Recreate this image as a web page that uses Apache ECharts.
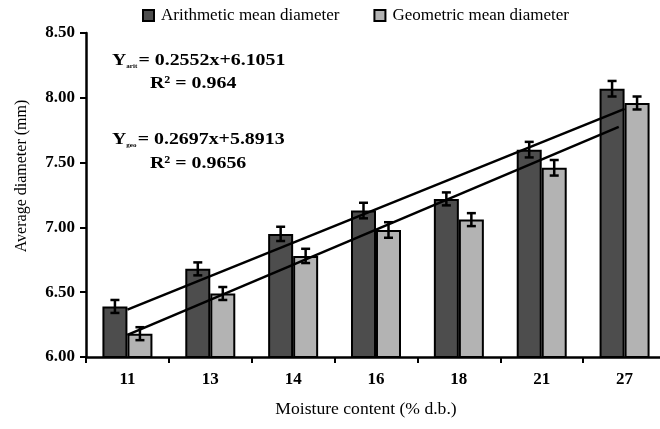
<!DOCTYPE html>
<html>
<head>
<meta charset="utf-8">
<script src="https://cdn.jsdelivr.net/npm/echarts@6/dist/echarts.min.js"></script>
<style>
html,body{margin:0;padding:0;background:#fff;}
#chart{width:660px;height:429px;}
</style>
</head>
<body>
<div id="chart"></div>
<script>
const categories = ['11', '13', '14', '16', '18', '21', '27'];
const arithMean = [6.39, 6.68, 6.95, 7.13, 7.22, 7.60, 8.07];
const geoMean = [6.18, 6.49, 6.78, 6.98, 7.06, 7.46, 7.96];
const arithErr = [0.05, 0.05, 0.055, 0.06, 0.05, 0.06, 0.06];
const geoErr = [0.05, 0.05, 0.055, 0.06, 0.05, 0.06, 0.05];
const arithTrend = [[1, 6.365], [7, 7.915]];
const geoTrend = [[1, 6.17], [6.93, 7.775]];
const seriesNames = ['Arithmetic mean diameter', 'Geometric mean diameter'];
const xTitle = 'Moisture content (% d.b.)';
const yTitle = 'Average diameter (mm)';

const FONT = '"Liberation Serif", "Times New Roman", serif';
const DARK = '#4d4d4d';
const LIGHT = '#b3b3b3';
const BAR_W = 25;

function errRenderer(offset) {
  return function (params, api) {
    const i = api.value(0);
    const lo = api.coord([i, api.value(1)]);
    const hi = api.coord([i, api.value(2)]);
    const x = lo[0] + offset;
    const cap = 4.5;
    const st = { stroke: '#000', lineWidth: 2.5 };
    return {
      type: 'group',
      children: [
        { type: 'line', shape: { x1: x, y1: lo[1], x2: x, y2: hi[1] }, style: st },
        { type: 'line', shape: { x1: x - cap, y1: lo[1], x2: x + cap, y2: lo[1] }, style: st },
        { type: 'line', shape: { x1: x - cap, y1: hi[1], x2: x + cap, y2: hi[1] }, style: st }
      ]
    };
  };
}

const chart = echarts.init(document.getElementById('chart'), null, { renderer: 'canvas' });
const eqRich = {
  a: { fontFamily: FONT, fontSize: 17, fontWeight: 'bold', color: '#000' },
  s: { fontFamily: FONT, fontSize: 6, fontWeight: 'bold', color: '#000', verticalAlign: 'bottom', padding: [0, 1, 0, 0] }
};
const EQ_SX = 1.17;
chart.setOption({
  animation: false,
  backgroundColor: '#fff',
  textStyle: { fontFamily: FONT },
  legend: {
    top: 7, left: 142, padding: 0,
    itemWidth: 11, itemHeight: 11, itemGap: 34,
    icon: 'rect',
    textStyle: { fontFamily: FONT, fontSize: 17, color: '#000', padding: [0, 0, 0, 2] },
    data: seriesNames
  },
  grid: { left: 86, top: 33, width: 580, height: 324, containLabel: false, outerBoundsMode: 'none' },
  xAxis: [
    {
      type: 'category', data: categories, boundaryGap: true,
      axisLine: { lineStyle: { color: '#000', width: 2.5 } },
      axisTick: { show: true, length: 6, interval: 0, lineStyle: { color: '#000', width: 2 } },
      axisLabel: { margin: 14, fontFamily: FONT, fontSize: 17, fontWeight: 'bold', color: '#000', interval: 0 },
      splitLine: { show: false }
    },
    { type: 'value', min: 0.5, max: 7.5, show: false, position: 'bottom' }
  ],
  yAxis: {
    type: 'value', min: 6, max: 8.5, interval: 0.5,
    axisLine: { show: true, lineStyle: { color: '#000', width: 2.5 } },
    axisTick: { show: true, length: 6, lineStyle: { color: '#000', width: 2 } },
    axisLabel: { margin: 11, fontFamily: FONT, fontSize: 17, fontWeight: 'bold', color: '#000', formatter: v => v.toFixed(2) },
    splitLine: { show: false }
  },
  graphic: [
    { type: 'text', x: 22, y: 176, rotation: Math.PI / 2,
      style: { text: yTitle, fontFamily: FONT, fontSize: 16, fill: '#000', align: 'center', verticalAlign: 'middle' } },
    { type: 'text', x: 366, y: 410, scaleX: 1.1,
      style: { text: xTitle, fontFamily: FONT, fontSize: 16, fill: '#000', align: 'center', verticalAlign: 'middle' } },
    { type: 'text', x: 112, y: 61, z: 100, scaleX: EQ_SX,
      style: { text: '{a|Y}{s|arit}{a|= 0.2552x+6.1051}', rich: eqRich, align: 'left', verticalAlign: 'middle' } },
    { type: 'text', x: 150, y: 84, z: 100, scaleX: EQ_SX,
      style: { text: '{a|R² = 0.964}', rich: eqRich, align: 'left', verticalAlign: 'middle' } },
    { type: 'text', x: 112, y: 140, z: 100, scaleX: EQ_SX,
      style: { text: '{a|Y}{s|geo}{a|= 0.2697x+5.8913}', rich: eqRich, align: 'left', verticalAlign: 'middle' } },
    { type: 'text', x: 150, y: 164, z: 100, scaleX: EQ_SX,
      style: { text: '{a|R² = 0.9656}', rich: eqRich, align: 'left', verticalAlign: 'middle' } }
  ],
  series: [
    {
      name: seriesNames[0], type: 'bar', data: arithMean, barWidth: BAR_W, barGap: '0%',
      itemStyle: { color: DARK, borderColor: '#000', borderWidth: 2 }, z: 2
    },
    {
      name: seriesNames[1], type: 'bar', data: geoMean, barWidth: BAR_W, barGap: '0%',
      itemStyle: { color: LIGHT, borderColor: '#000', borderWidth: 2 }, z: 2
    },
    {
      type: 'custom', name: 'errA', renderItem: errRenderer(-BAR_W / 2), z: 5,
      data: arithMean.map((v, i) => [i, v - arithErr[i], v + arithErr[i]]),
      encode: { x: 0, y: [1, 2] }, silent: true
    },
    {
      type: 'custom', name: 'errG', renderItem: errRenderer(BAR_W / 2), z: 5,
      data: geoMean.map((v, i) => [i, v - geoErr[i], v + geoErr[i]]),
      encode: { x: 0, y: [1, 2] }, silent: true
    },
    {
      type: 'line', name: 'trendA', xAxisIndex: 1, data: arithTrend, symbol: 'none', z: 6,
      lineStyle: { color: '#000', width: 2.5 }, silent: true
    },
    {
      type: 'line', name: 'trendG', xAxisIndex: 1, data: geoTrend, symbol: 'none', z: 6,
      lineStyle: { color: '#000', width: 2.5 }, silent: true
    }
  ]
});
</script>
</body>
</html>
